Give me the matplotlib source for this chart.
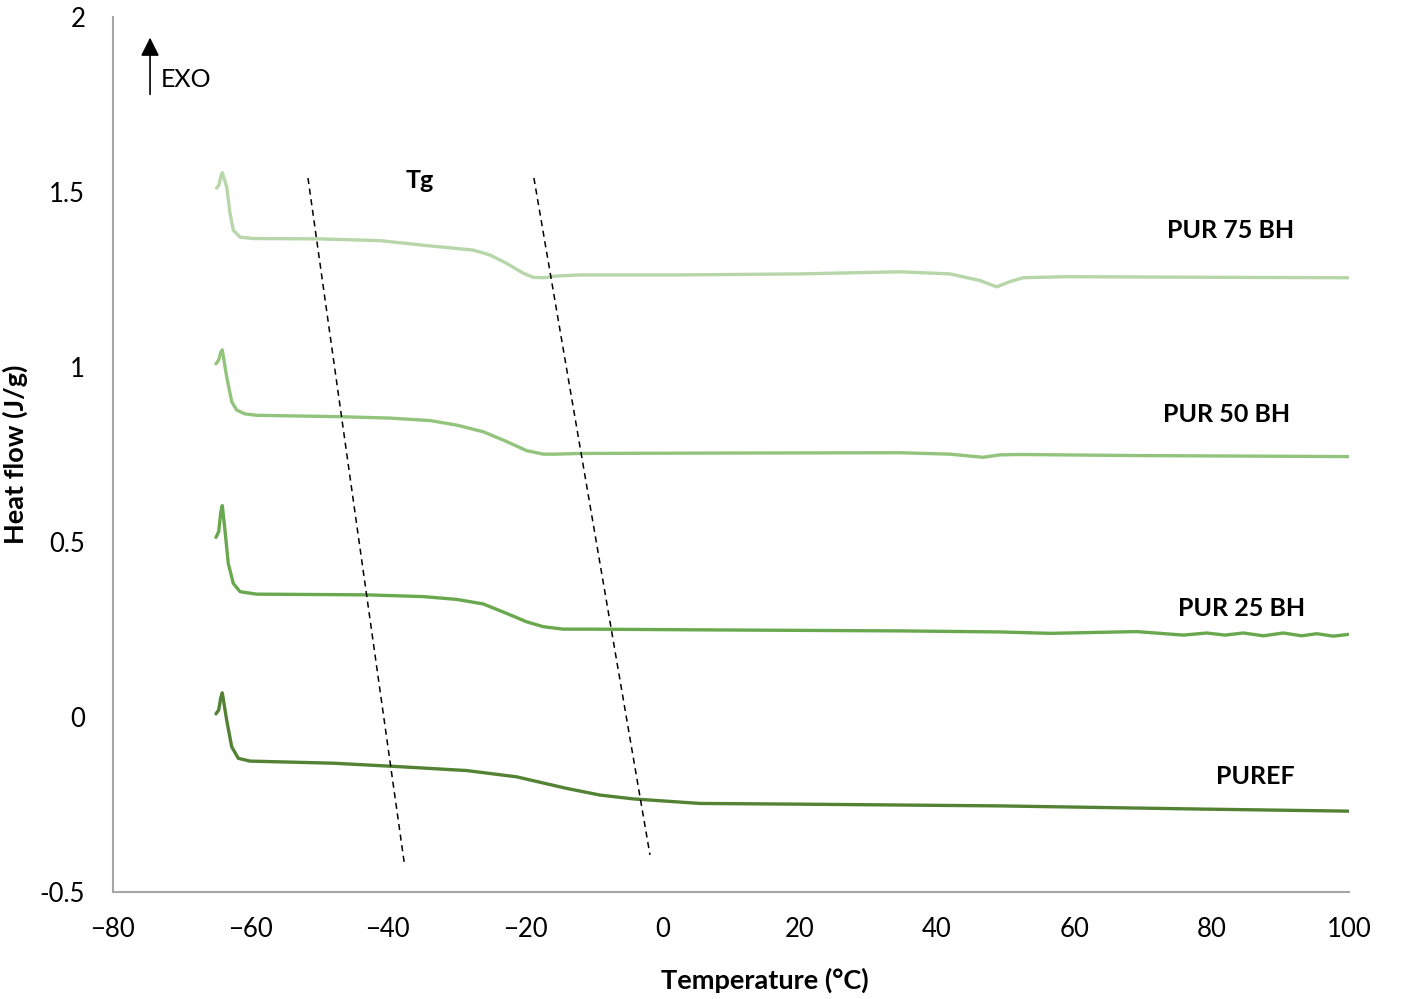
import matplotlib.pyplot as plt

plt.rcParams['font.family'] = ['Lato', 'DejaVu Sans']

# DSC curves (temperature in °C, heat flow in J/g)
t_75 = [-64.9, -64.56, -64.27, -64.08, -63.44, -62.96, -62.48, -61.5, -59.6, -49.9, -41.12,
        -33.84, -27.53, -25.1, -22.67, -20.25, -18.8, -17.33, -15.39, -11.99, 2.57, 20.0,
        34.6, 41.89, 46.26, 48.69, 50.63, 52.56, 58.88, 83.1, 99.85]
hf_75 = [1.511, 1.52, 1.546, 1.555, 1.515, 1.44, 1.391, 1.371, 1.367, 1.366, 1.361,
         1.346, 1.334, 1.32, 1.296, 1.268, 1.256, 1.255, 1.26, 1.263, 1.263, 1.266,
         1.272, 1.266, 1.247, 1.229, 1.244, 1.255, 1.258, 1.256, 1.255]

t_50 = [-65.0, -64.6, -64.3, -64.08, -63.44, -62.71, -61.99, -60.78, -59.07, -46.94, -39.66,
        -33.84, -29.95, -26.08, -22.67, -19.76, -17.34, -15.39, -11.99, 5.5, 34.6, 41.89,
        46.7, 49.2, 52.1, 68.6, 99.85]
hf_50 = [1.009, 1.02, 1.042, 1.049, 0.972, 0.901, 0.877, 0.866, 0.862, 0.858, 0.854,
         0.847, 0.834, 0.815, 0.787, 0.761, 0.751, 0.751, 0.753, 0.754, 0.755, 0.751,
         0.742, 0.749, 0.75, 0.747, 0.744]

t_25 = [-65.0, -64.6, -64.3, -64.08, -63.69, -63.21, -62.48, -61.5, -59.07, -43.06, -34.81,
        -29.95, -26.08, -22.67, -19.76, -17.34, -14.43, -10.54, 5.5, 34.6, 49.2, 56.45,
        69.08, 75.87, 79.27, 81.94, 84.6, 87.52, 90.43, 93.11, 95.29, 97.71, 99.9]
hf_25 = [0.513, 0.53, 0.585, 0.604, 0.534, 0.439, 0.382, 0.358, 0.351, 0.349, 0.344,
         0.336, 0.323, 0.296, 0.272, 0.258, 0.251, 0.251, 0.249, 0.246, 0.243, 0.239,
         0.244, 0.234, 0.240, 0.234, 0.240, 0.232, 0.240, 0.232, 0.238, 0.231, 0.236]

t_ref = [-65.0, -64.6, -64.3, -64.08, -63.44, -62.71, -61.75, -60.05, -47.92, -38.21, -28.5,
         -21.21, -13.93, -9.08, -4.23, 5.48, 20.0, 49.2, 78.3, 100.0]
hf_ref = [0.009, 0.02, 0.055, 0.069, -0.009, -0.085, -0.118, -0.126, -0.132, -0.142, -0.153,
          -0.171, -0.204, -0.223, -0.234, -0.247, -0.249, -0.254, -0.263, -0.269]

series = [
    ('PUR 75 BH', t_75, hf_75, '#b7d6aa', (82.7, 1.389)),
    ('PUR 50 BH', t_50, hf_50, '#93c47d', (82.1, 0.863)),
    ('PUR 25 BH', t_25, hf_25, '#6aa84f', (84.3, 0.311)),
    ('PUREF', t_ref, hf_ref, '#548235', (86.3, -0.171)),
]

# Tg guide lines
tg_low_x = [-51.6, -37.6]
tg_low_y = [1.54, -0.414]
tg_high_x = [-18.7, -1.8]
tg_high_y = [1.54, -0.394]

fig = plt.figure(figsize=(14.19, 9.99), dpi=100)
ax = fig.add_axes([0.0796, 0.1071, 0.8711, 0.8759])

for name, t, hf, col, pos in series:
    ax.plot(t, hf, color=col, lw=2.4, solid_capstyle='round', solid_joinstyle='round')
    ax.text(pos[0], pos[1], name, fontsize=18, fontweight='bold', ha='center', va='center')

ax.plot(tg_low_x, tg_low_y, color='black', lw=1.1, ls=(0, (4, 3)))
ax.plot(tg_high_x, tg_high_y, color='black', lw=1.1, ls=(0, (4, 3)))
ax.text(-35.3, 1.534, 'Tg', fontsize=18, fontweight='bold', ha='center', va='center')

ax.annotate('', xy=(-74.6, 1.949), xytext=(-74.6, 1.771),
            arrowprops=dict(arrowstyle='-|>', color='black', lw=1.2, mutation_scale=28))
ax.text(-73.0, 1.82, 'EXO', fontsize=18, ha='left', va='center')

ax.set_xlim(-80, 100)
ax.set_ylim(-0.5, 2)
ax.set_xticks(range(-80, 101, 20))
ax.set_yticks([-0.5, 0, 0.5, 1, 1.5, 2])
ax.set_yticklabels(['-0.5', '0', '0.5', '1', '1.5', '2'])
ax.tick_params(length=0, labelsize=18.5)
ax.tick_params(axis='x', pad=18)
ax.tick_params(axis='y', pad=20)

for s in ['top', 'right']:
    ax.spines[s].set_visible(False)
for s in ['left', 'bottom']:
    ax.spines[s].set_color('#a6a6a6')
    ax.spines[s].set_linewidth(1.5)

ax.set_xlabel('Temperature (°C)', fontsize=19.5, fontweight='bold', va='center')
ax.set_ylabel('Heat flow (J/g)', fontsize=19.5, fontweight='bold', va='center')
ax.xaxis.set_label_coords(0.5275, -0.1006)
ax.yaxis.set_label_coords(-0.0793, 0.5)

fig.savefig('out.png', dpi=100)
